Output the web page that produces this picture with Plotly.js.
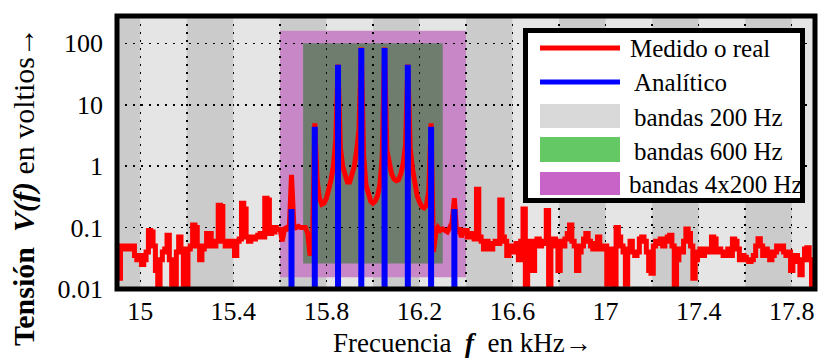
<!DOCTYPE html>
<html><head><meta charset="utf-8">
<script src="https://cdn.plot.ly/plotly-3.0.1.min.js"></script>
<style>html,body{margin:0;padding:0;background:#fff}#chart{width:821px;height:360px}</style>
</head><body><div id="chart"></div>
<script>
// ---------- DATA ----------
const freqInicio = 14.9;   // kHz, first sample of the measured spectrum
const pasoFreq = 0.01;     // kHz, sample spacing

// Measured spectrum (volts), 14.90 .. 15.59 kHz
const ruidoIzquierda = [
  0.04,0.015,0.05,0.045,0.05,0.05,0.045,0.05,0.035,0.03,
  0.035,0.025,0.03,0.04,0.09,0.085,0.05,0.02,0.01,0.03,
  0.04,0.045,0.075,0.03,0.012,0.01,0.04,0.07,0.045,0.012,
  0.01,0.045,0.05,0.11,0.1,0.05,0.03,0.045,0.05,0.08,
  0.08,0.05,0.05,0.06,0.23,0.22,0.06,0.05,0.06,0.05,
  0.06,0.035,0.06,0.065,0.25,0.2,0.07,0.06,0.07,0.065,
  0.07,0.075,0.08,0.07,0.3,0.28,0.08,0.09,0.1,0.085
];
// 15.60 .. 16.39 kHz
const zonaCentral = [
  0.1,0.06,0.095,0.1,0.09,0.72,0.11,0.1,0.105,0.1,
  0.1,0.1,0.08,0.035,0.05,5.0,0.6,0.3,0.24,0.25,
  0.3,0.4,0.6,1.0,2.6,45,2.0,1.0,0.7,0.55,
  0.55,0.7,1.0,1.8,4.0,85,1.5,0.5,0.33,0.27,
  0.25,0.27,0.33,0.5,1.5,85,1.8,1.0,0.75,0.62,
  0.58,0.6,0.75,1.1,2.2,45,2.0,0.9,0.5,0.33,
  0.26,0.22,0.21,0.23,0.4,5.0,0.04,0.08,0.1,0.09,
  0.095,0.09,0.085,0.1,0.12,0.3,0.08,0.1,0.07,0.09
];
// 16.40 .. 17.90 kHz
const ruidoDerecha = [
  0.09,0.07,0.08,0.07,0.065,0.42,0.07,0.06,0.045,0.06,
  0.05,0.045,0.055,0.06,0.055,0.28,0.07,0.06,0.035,0.045,
  0.05,0.04,0.055,0.03,0.06,0.2,0.01,0.05,0.06,0.02,
  0.05,0.065,0.05,0.055,0.06,0.19,0.01,0.05,0.065,0.05,
  0.02,0.06,0.05,0.065,0.08,0.11,0.06,0.05,0.02,0.04,
  0.05,0.065,0.08,0.06,0.05,0.045,0.055,0.07,0.045,0.05,
  0.05,0.012,0.045,0.04,0.01,0.1,0.07,0.05,0.04,0.012,
  0.045,0.06,0.04,0.035,0.04,0.065,0.07,0.06,0.04,0.02,
  0.018,0.05,0.06,0.055,0.065,0.05,0.06,0.07,0.075,0.05,
  0.01,0.03,0.045,0.04,0.06,0.095,0.08,0.05,0.015,0.03,
  0.04,0.045,0.035,0.04,0.045,0.04,0.07,0.065,0.04,0.045,
  0.04,0.035,0.04,0.045,0.035,0.065,0.06,0.045,0.03,0.035,
  0.033,0.03,0.028,0.03,0.035,0.05,0.066,0.05,0.035,0.045,
  0.04,0.03,0.035,0.04,0.05,0.045,0.05,0.04,0.035,0.04,
  0.02,0.03,0.035,0.028,0.017,0.03,0.045,0.047,0.03,0.01,0.012
];

// Analytic spectral lines
const analiticoFreq = [15.65, 15.75, 15.85, 15.95, 16.05, 16.15, 16.25, 16.35];
const analiticoVal  = [0.2, 4.4, 45, 84, 84, 45, 4.4, 0.2];

// Bands
const bandas200Inicio = [14.8, 15.2, 15.6, 16.0, 16.4, 16.8, 17.2, 17.6]; // shaded 200 Hz bands
const anchoBanda200 = 0.2;
const banda600X = [15.7, 16.3];
const banda600Y = [0.026, 100];
const banda4x200X = [15.6, 16.4];
const banda4x200Y = [0.0156, 160];

// Axes
const xRango = [14.9, 17.9];
const yRangoLog = [-2, 2.445];
const yTickVals = [0.01, 0.1, 1, 10, 100];
const yTickText = ["0.01", "0.1", "1", "10", "100"];
const xTick0 = 15, xDtick = 0.4, xMinorDtick = 0.2;

const nombres = ["Medido o real", "Analítico", "bandas 200 Hz", "bandas 600 Hz", "bandas 4x200 Hz"];
const tituloX = "Frecuencia  <b><i>f</i></b>  en kHz→";
const tituloY = "<b>Tensión</b>  <b><i>V(f)</i></b> en voltios→";

// ---------- STYLE / LAYOUT ----------
const FONT = "Liberation Serif";
const W = 821, H = 360;
const M = {l: 117, r: 6, t: 16, b: 71};
const pw = W - M.l - M.r, ph = H - M.t - M.b;
const px2p = px => (px - M.l) / pw;
const py2p = py => (M.t + ph - py) / ph;

const colRojo = "#ff0000", colAzul = "#0000ff";
const colGrisLeyenda = "#d9d9d9", colVerdeLeyenda = "#64c864", colMoradoLeyenda = "#c864c8";

// measured series drawn in three pieces (noisy flanks stepped, resonant centre smooth)
const nIzq = ruidoIzquierda.length, nCen = zonaCentral.length;
const lineaRoja = {color: colRojo, width: 5};
const yBase = yTickVals[0];
const traces = [
  {type: "scatter", mode: "lines", name: nombres[0], legendgroup: "m",
   y: ruidoIzquierda, x0: freqInicio, dx: pasoFreq,
   line: Object.assign({shape: "hvh"}, lineaRoja), showlegend: false, hoverinfo: "skip"},
  {type: "scatter", mode: "lines", name: nombres[0], legendgroup: "m",
   y: [ruidoIzquierda[nIzq - 1]].concat(zonaCentral, [ruidoDerecha[0]]),
   x0: freqInicio + (nIzq - 1) * pasoFreq, dx: pasoFreq,
   line: Object.assign({shape: "linear"}, lineaRoja), showlegend: false, hoverinfo: "skip"},
  {type: "scatter", mode: "lines", name: nombres[0], legendgroup: "m",
   y: ruidoDerecha, x0: freqInicio + (nIzq + nCen) * pasoFreq, dx: pasoFreq,
   line: Object.assign({shape: "hvh"}, lineaRoja), showlegend: false, hoverinfo: "skip"},
  {type: "scatter", mode: "lines", name: nombres[1],
   x: analiticoFreq.flatMap(f => [f, f, null]),
   y: analiticoVal.flatMap(v => [yBase, v, null]),
   line: {color: colAzul, width: 6}, showlegend: false, hoverinfo: "skip"}
];

const shapes = [];
shapes.push({type: "rect", layer: "below", xref: "x", yref: "y",
  x0: banda4x200X[0], x1: banda4x200X[1], y0: banda4x200Y[0], y1: banda4x200Y[1],
  fillcolor: "rgb(200,136,200)", line: {width: 0}});
bandas200Inicio.forEach(s => shapes.push({type: "rect", layer: "below", xref: "x", yref: "paper",
  x0: s, x1: s + anchoBanda200, y0: 0, y1: 1, fillcolor: "rgba(0,0,0,0.11)", line: {width: 0}}));
shapes.push({type: "rect", layer: "below", xref: "x", yref: "y",
  x0: banda600X[0], x1: banda600X[1], y0: banda600Y[0], y1: banda600Y[1],
  fillcolor: "rgb(111,125,111)", line: {width: 0}});
// frame
shapes.push({type: "rect", layer: "above", xref: "paper", yref: "paper", x0: 0, x1: 1, y0: 0, y1: 1,
  line: {color: "#000", width: 5}, fillcolor: "rgba(0,0,0,0)"});

// custom legend
const leg = {x0: 525.5, x1: 802.5, y0: 30.5, y1: 200.5, symX0: 540, symX1: 620};
shapes.push({type: "rect", layer: "above", xref: "paper", yref: "paper",
  x0: px2p(leg.x0), x1: px2p(leg.x1), y0: py2p(leg.y1), y1: py2p(leg.y0),
  fillcolor: "#ffffff", line: {color: "#000", width: 5}});
const filasY = [48, 82, 117, 151, 184];
const textoX = [628, 632, 632, 632, 627];
shapes.push({type: "line", layer: "above", xref: "paper", yref: "paper",
  x0: px2p(leg.symX0), x1: px2p(leg.symX1), y0: py2p(filasY[0]), y1: py2p(filasY[0]),
  line: {color: colRojo, width: 5}});
shapes.push({type: "line", layer: "above", xref: "paper", yref: "paper",
  x0: px2p(leg.symX0), x1: px2p(leg.symX1), y0: py2p(filasY[1]), y1: py2p(filasY[1]),
  line: {color: colAzul, width: 5}});
[[104, 128, colGrisLeyenda], [137, 162, colVerdeLeyenda], [172, 195, colMoradoLeyenda]].forEach(r =>
  shapes.push({type: "rect", layer: "above", xref: "paper", yref: "paper",
    x0: px2p(leg.symX0), x1: px2p(leg.symX1), y0: py2p(r[1]), y1: py2p(r[0]),
    fillcolor: r[2], line: {width: 0}}));

const annotations = nombres.map((n, i) => ({
  xref: "paper", yref: "paper", x: px2p(textoX[i]), y: py2p(filasY[i]),
  xanchor: "left", yanchor: "middle", text: n, showarrow: false,
  font: {family: FONT, size: 25, color: "#000"}
}));
annotations.push({xref: "paper", yref: "paper", x: px2p(462), y: py2p(343),
  xanchor: "center", yanchor: "middle", text: tituloX, showarrow: false,
  font: {family: FONT, size: 27, color: "#000"}});
annotations.push({xref: "paper", yref: "paper", x: px2p(24), y: py2p(187),
  xanchor: "center", yanchor: "middle", text: tituloY, textangle: -90, showarrow: false,
  font: {family: FONT, size: 30, color: "#000"}});

const gridStyle = {showgrid: true, gridcolor: "#000", gridwidth: 1.5, griddash: "2px,6px"};
const layout = {
  width: W, height: H, margin: M,
  paper_bgcolor: "#ffffff", plot_bgcolor: "#e5e5e5",
  showlegend: false,
  font: {family: FONT, size: 26, color: "#000"},
  xaxis: Object.assign({type: "linear", range: xRango, tick0: xTick0, dtick: xDtick,
    ticks: "", showline: false, zeroline: false, ticklabelstandoff: 4,
    tickfont: {family: FONT, size: 26, color: "#000"},
    minor: Object.assign({tick0: xTick0, dtick: xMinorDtick}, gridStyle)}, gridStyle),
  yaxis: Object.assign({type: "log", range: yRangoLog, tickvals: yTickVals, ticktext: yTickText,
    ticks: "", showline: false, zeroline: false, ticklabelstandoff: 13,
    tickfont: {family: FONT, size: 26, color: "#000"}}, gridStyle),
  shapes: shapes,
  annotations: annotations
};

Plotly.newPlot("chart", traces, layout, {staticPlot: true, displayModeBar: false});
</script></body></html>
